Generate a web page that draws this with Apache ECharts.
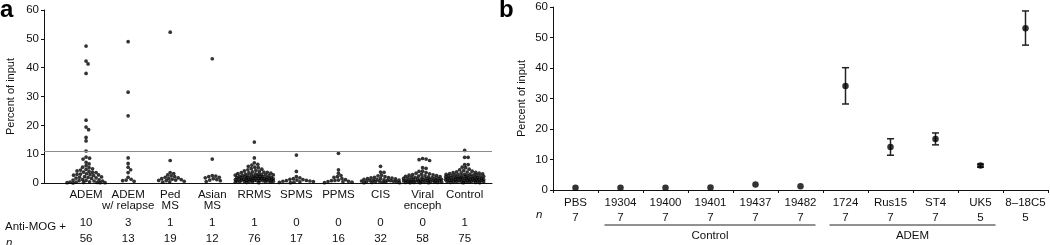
<!DOCTYPE html>
<html>
<head>
<meta charset="utf-8">
<script src="https://cdn.jsdelivr.net/npm/echarts@6/dist/echarts.min.js"></script>
<style>
  html, body { margin: 0; padding: 0; background: #fff; }
  #chart { width: 1050px; height: 245px; }
</style>
</head>
<body>
<div id="chart"></div>
<script>
// panel a: anti-MOG binding per patient group
const groupsA = ['ADEM', 'ADEM\nw/ relapse', 'Ped\nMS', 'Asian\nMS', 'RRMS', 'SPMS', 'PPMS', 'CIS', 'Viral\nenceph', 'Control'];
const antiMogA = [10, 3, 1, 1, 1, 0, 0, 0, 0, 1];
const nA = [56, 13, 19, 12, 76, 17, 16, 32, 58, 75];
const cutoff = 10.9;

const adem = [47.5, 42.3, 41.3, 38, 21.8, 19.4, 18.5, 15.8, 14.6, 11.1, 9.0, 8.6, 8.3, 7.2, 6.6, 6.0, 5.5, 5.3, 4.9, 4.7,
  4.5, 4.2, 4.0, 3.8, 3.7, 3.6, 3.2, 3.1, 3.0, 2.9, 2.8, 2.7, 2.6, 2.2, 2.1, 2.0, 1.9, 1.8, 1.7, 1.6,
  1.2, 1.1, 1.0, 0.9, 0.8, 0.7, 0.7, 0.4, 0.3, 0.3, 0.2, 0.2, 0.1, 0.1, 0.1, 0.0];
const ademRelapse = [49, 31.5, 23.3, 8.7, 6.8, 5.5, 4.6, 3.6, 2.0, 1.3, 1.0, 0.8, 0.6];
const pedMS = [52.3, 7.8, 3.6, 3.3, 2.8, 2.5, 2.2, 2.0, 1.8, 1.6, 1.5, 1.3, 1.2, 1.0, 0.9, 0.8, 0.6, 0.4, 0.3];
const asianMS = [43.1, 8.3, 2.6, 2.4, 2.2, 2.0, 1.8, 1.5, 1.2, 1.0, 0.8, 0.5];
const rrms = [14.2, 8.7, 7.0, 6.5, 6.2, 5.8, 5.5, 5.3, 5.0, 4.8, 4.6, 4.4, 4.2, 4.0,
  3.9, 3.8, 3.7, 3.6, 3.5, 3.4, 3.3, 3.2, 3.1, 3.0, 3.0, 2.9, 2.8, 2.8, 2.7, 2.6, 2.6, 2.5, 2.4, 2.4,
  2.3, 2.2, 2.2, 2.1, 2.0, 2.0, 1.9, 1.9, 1.8, 1.8, 1.7, 1.7, 1.6, 1.6, 1.5, 1.5, 1.4, 1.4, 1.3, 1.3,
  1.2, 1.2, 1.1, 1.1, 1.0, 1.0, 0.9, 0.9, 0.8, 0.8, 0.7, 0.7, 0.6, 0.6, 0.5, 0.5, 0.4, 0.4, 0.3, 0.3, 0.2, 0.1];
const spms = [9.7, 4.0, 2.2, 1.8, 1.5, 1.3, 1.2, 1.0, 0.9, 0.8, 0.7, 0.6, 0.5, 0.4, 0.3, 0.2, 0.1];
const ppms = [10.3, 4.6, 3.4, 2.6, 2.2, 2.0, 1.5, 1.2, 1.0, 0.9, 0.8, 0.6, 0.5, 0.4, 0.3, 0.1];
const cis = [5.8, 3.8, 3.7, 2.7, 2.5, 2.2, 2.0, 1.9, 1.8, 1.7, 1.6, 1.5, 1.4, 1.3, 1.2, 1.1, 1.0, 1.0, 0.9, 0.8,
  0.8, 0.7, 0.6, 0.6, 0.5, 0.5, 0.4, 0.3, 0.3, 0.2, 0.1, 0.1];
const viral = [8.5, 8.3, 8.1, 7.8, 5.3, 5.1, 4.1, 4.0, 3.6, 3.4, 3.2, 3.0,
  2.9, 2.8, 2.7, 2.6, 2.5, 2.4, 2.3, 2.2, 2.1, 2.0, 1.9, 1.9, 1.8, 1.7, 1.7, 1.6, 1.5, 1.5, 1.4, 1.3,
  1.3, 1.2, 1.1, 1.1, 1.0, 1.0, 0.9, 0.9, 0.8, 0.8, 0.7, 0.7, 0.6, 0.6, 0.5, 0.5, 0.4, 0.4, 0.3, 0.3,
  0.2, 0.2, 0.2, 0.1, 0.1, 0.1];
const control = [11.3, 8.9, 8.9, 6.4, 6.4, 5.5, 5.3, 4.8, 4.6, 4.3, 4.1, 3.9,
  3.8, 3.7, 3.6, 3.5, 3.4, 3.3, 3.2, 3.1, 3.0, 3.0, 2.9, 2.8, 2.8, 2.7, 2.6, 2.6, 2.5, 2.4, 2.4, 2.3,
  2.2, 2.2, 2.1, 2.0, 2.0, 1.9, 1.9, 1.8, 1.8, 1.7, 1.7, 1.6, 1.6, 1.5, 1.5, 1.4, 1.4, 1.3, 1.3, 1.2,
  1.2, 1.1, 1.1, 1.0, 1.0, 0.9, 0.9, 0.8, 0.8, 0.7, 0.7, 0.6, 0.6, 0.5, 0.5, 0.4, 0.4, 0.3, 0.3, 0.2,
  0.2, 0.1, 0.1];
const valuesA = [adem, ademRelapse, pedMS, asianMS, rrms, spms, ppms, cis, viral, control];

// panel b: mean (error range) per antibody
const clonesB = ['PBS', '19304', '19400', '19401', '19437', '19482', '1724', 'Rus15', 'ST4', 'UK5', '8–18C5'];
const meanB = [0.7, 0.7, 0.7, 0.8, 1.8, 1.2, 34.1, 14.1, 16.7, 8.0, 53.0];
const lowB = [0.7, 0.7, 0.7, 0.8, 1.8, 1.2, 28.2, 11.4, 14.8, 7.5, 47.5];
const highB = [0.7, 0.7, 0.7, 0.8, 1.8, 1.2, 40.1, 16.8, 18.7, 8.5, 58.7];
const nB = [7, 7, 7, 7, 7, 7, 7, 7, 7, 5, 5];
const groupsB = [
  { name: 'Control', from: 1, to: 5 },
  { name: 'ADEM', from: 6, to: 9 }
];

const FONT = "'Liberation Sans Narrow', 'Liberation Sans', Arial, sans-serif";
const INK = '#111';

// grid a geometry (px), used by the swarm layout
const gridA = { left: 44, top: 10, width: 448, height: 178 };
const xMaxA = 10.65;
const pxPerX = gridA.width / xMaxA;
const pxPerY = gridA.height / 60;

// simple beeswarm: highest values first, nearest free slot to the centre
function swarm(vals, dot, halfW) {
  const order = vals.map((v, i) => i).sort((a, b) => vals[b] - vals[a]);
  const placed = [];
  const offs = new Array(vals.length);
  for (const i of order) {
    const y = vals[i] * pxPerY;
    let best = 0, bestScore = -Infinity;
    for (let s = 0; s <= halfW * 4; s++) {
      const x = (s % 2 ? 1 : -1) * Math.ceil(s / 2) * 0.5;
      let minD = Infinity;
      for (const p of placed) {
        const d = Math.hypot(p[0] - x, p[1] - y);
        if (d < minD) minD = d;
      }
      if (minD >= dot) { best = x; break; }
      if (minD > bestScore) { bestScore = minD; best = x; }
    }
    placed.push([best, y]);
    offs[i] = best;
  }
  return offs;
}

const pointsA = [];
valuesA.forEach((vals, g) => {
  const offs = swarm(vals, 3.4, 19);
  vals.forEach((v, i) => pointsA.push([g + 1 + offs[i] / pxPerX, v]));
});

function catLabel(list) {
  return v => (Number.isInteger(v) && v >= 1 && v <= list.length) ? String(list[v - 1]) : '';
}

function yAxisFor(gridIndex, nameGap) {
  return {
    gridIndex, type: 'value', min: 0, max: 60, interval: 10,
    name: 'Percent of input', nameLocation: 'middle', nameGap,
    nameTextStyle: { fontSize: 11, color: INK, fontFamily: FONT },
    axisLine: { show: true, lineStyle: { color: INK, width: 1 } },
    axisTick: { show: true, length: 3, lineStyle: { color: INK } },
    axisLabel: { fontSize: 11.5, color: INK, margin: 5, fontFamily: FONT },
    splitLine: { show: false }
  };
}

function rowAxis(list, offset, extra) {
  return Object.assign({
    gridIndex: 0, type: 'value', position: 'bottom', min: 0, max: xMaxA, interval: 1, offset,
    axisLine: { show: false }, axisTick: { show: false }, splitLine: { show: false },
    axisLabel: { formatter: catLabel(list), fontSize: 11.5, color: INK, fontFamily: FONT, margin: 6 }
  }, extra || {});
}

const chart = echarts.init(document.getElementById('chart'), null, { renderer: 'canvas' });

chart.setOption({
  animation: false,
  backgroundColor: '#fff',
  textStyle: { fontFamily: FONT },
  grid: [
    { left: gridA.left, top: gridA.top, width: gridA.width, height: gridA.height },
    { left: 553, right: 2, top: 7, bottom: 55 }
  ],
  xAxis: [
    rowAxis(groupsA, 0, {
      axisLine: { show: true, onZero: false, lineStyle: { color: INK, width: 1 } },
      axisLabel: { formatter: catLabel(groupsA), fontSize: 11.5, color: INK, fontFamily: FONT, margin: 6, lineHeight: 11.5 }
    }),
    rowAxis(antiMogA, 28),
    rowAxis(nA, 44),
    {
      gridIndex: 1, type: 'category', data: clonesB, boundaryGap: true,
      axisLine: { show: true, lineStyle: { color: INK, width: 1 } },
      axisTick: { show: true, length: 3, lineStyle: { color: INK } },
      axisLabel: {
        interval: 0, fontSize: 11.5, color: INK, fontFamily: FONT, margin: 5, lineHeight: 15,
        formatter: (v, i) => v + '\n' + nB[i]
      },
      splitLine: { show: false }
    }
  ],
  yAxis: [yAxisFor(0, 28), yAxisFor(1, 26)],
  series: [
    {
      type: 'scatter', xAxisIndex: 0, yAxisIndex: 0,
      data: pointsA, symbolSize: 3.7,
      itemStyle: { color: '#000' },
      markLine: {
        silent: true, symbol: 'none', label: { show: false },
        lineStyle: { color: '#8c8c8c', width: 1, type: 'solid' },
        data: [{ yAxis: cutoff }]
      }
    },
    {
      type: 'custom', xAxisIndex: 3, yAxisIndex: 1,
      data: clonesB.map((c, i) => [i, lowB[i], highB[i]]).filter(d => d[2] - d[1] > 0.2),
      encode: { x: 0, y: [1, 2] },
      renderItem: (params, api) => {
        const top = api.coord([api.value(0), api.value(2)]);
        const bot = api.coord([api.value(0), api.value(1)]);
        const w = 3.5;
        const st = { stroke: '#222', lineWidth: 1.5 };
        return {
          type: 'group', children: [
            { type: 'line', shape: { x1: top[0], y1: top[1], x2: bot[0], y2: bot[1] }, style: st },
            { type: 'line', shape: { x1: top[0] - w, y1: top[1], x2: top[0] + w, y2: top[1] }, style: st },
            { type: 'line', shape: { x1: bot[0] - w, y1: bot[1], x2: bot[0] + w, y2: bot[1] }, style: st }
          ]
        };
      }
    },
    {
      type: 'scatter', xAxisIndex: 3, yAxisIndex: 1,
      data: meanB.map((v, i) => [i, v]), symbolSize: 6.5,
      itemStyle: { color: '#000' }, z: 3
    }
  ]
});

// panel letters, row titles and group brackets under panel b
const graphics = [
  { type: 'text', left: 0, top: -2, style: { text: 'a', font: "bold 24px 'Liberation Sans', Arial", fill: '#000' } },
  { type: 'text', left: 499, top: -2, style: { text: 'b', font: "bold 24px 'Liberation Sans', Arial", fill: '#000' } },
  { type: 'text', left: 5, top: 221, style: { text: 'Anti-MOG +', font: "11.5px " + FONT, fill: INK } },
  { type: 'text', left: 6, top: 237, style: { text: 'n', font: "italic 11.5px " + FONT, fill: INK } },
  { type: 'text', left: 536, top: 209, style: { text: 'n', font: "italic 11.5px " + FONT, fill: INK } }
];
groupsB.forEach(g => {
  const x1 = chart.convertToPixel({ xAxisIndex: 3 }, g.from) - 16;
  const x2 = chart.convertToPixel({ xAxisIndex: 3 }, g.to) + 15;
  graphics.push({
    type: 'line', shape: { x1, y1: 225, x2, y2: 225 },
    style: { stroke: '#222', lineWidth: 1 }
  });
  graphics.push({
    type: 'text', x: (x1 + x2) / 2, y: 236,
    style: { text: g.name, font: "11.5px " + FONT, fill: INK, textAlign: 'center', textVerticalAlign: 'middle' }
  });
});
chart.setOption({ graphic: graphics });
</script>
</body>
</html>
